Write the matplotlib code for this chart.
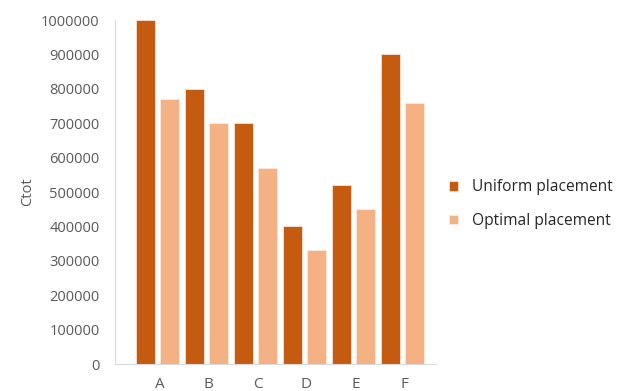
import matplotlib
matplotlib.use("Agg")
import matplotlib.pyplot as plt
import numpy as np

categories = ["A", "B", "C", "D", "E", "F"]
uniform = [1000000, 800000, 700000, 400000, 520000, 900000]
optimal = [770000, 700000, 570000, 330000, 450000, 760000]
yticks = [0, 100000, 200000, 300000, 400000, 500000, 600000, 700000, 800000, 900000, 1000000]

dark = "#C55A11"
light = "#F4B183"
grey = "#595959"

plt.rcParams["font.family"] = ["Open Sans", "DejaVu Sans"]

fig = plt.figure(figsize=(6.19, 3.91), dpi=100)
ax = fig.add_axes([115 / 619, 1 - 364 / 391, (436 - 115) / 619, (364 - 20) / 391])

x = np.arange(len(categories))
w = 0.39
off = 0.245
b1 = ax.bar(x - off, uniform, w, color=dark, edgecolor="#F8E0D0", linewidth=0.6, label="Uniform placement")
b2 = ax.bar(x + off, optimal, w, color=light, edgecolor="#FCEBDD", linewidth=0.6, label="Optimal placement")

ax.set_xlim((115 - 157.5) / 49, (436 - 157.5) / 49)
ax.set_ylim(0, 1000000)
ax.set_yticks(yticks)
ax.set_yticklabels([str(v) for v in yticks], fontsize=10.5, color=grey)
ax.set_xticks(x + 0.04)
ax.set_xticklabels(categories, fontsize=11, color=grey)
ax.tick_params(axis="y", length=0, pad=11)
ax.tick_params(axis="x", length=0, pad=9)

for s in ["top", "right"]:
    ax.spines[s].set_visible(False)
for s in ["left", "bottom"]:
    ax.spines[s].set_color("#D9D9D9")
    ax.spines[s].set_linewidth(0.8)

ax.set_ylabel("Ctot", fontsize=10.5, color=grey, labelpad=4)

leg = fig.legend(handles=[b1, b2], loc="center left",
                 bbox_to_anchor=(435 / 619, 1 - 204 / 391),
                 frameon=False, fontsize=11.2, handlelength=0.6, handleheight=0.6,
                 handletextpad=0.85, labelspacing=1.15)
for t in leg.get_texts():
    t.set_color("#262626")

fig.savefig("out.png", dpi=100)
